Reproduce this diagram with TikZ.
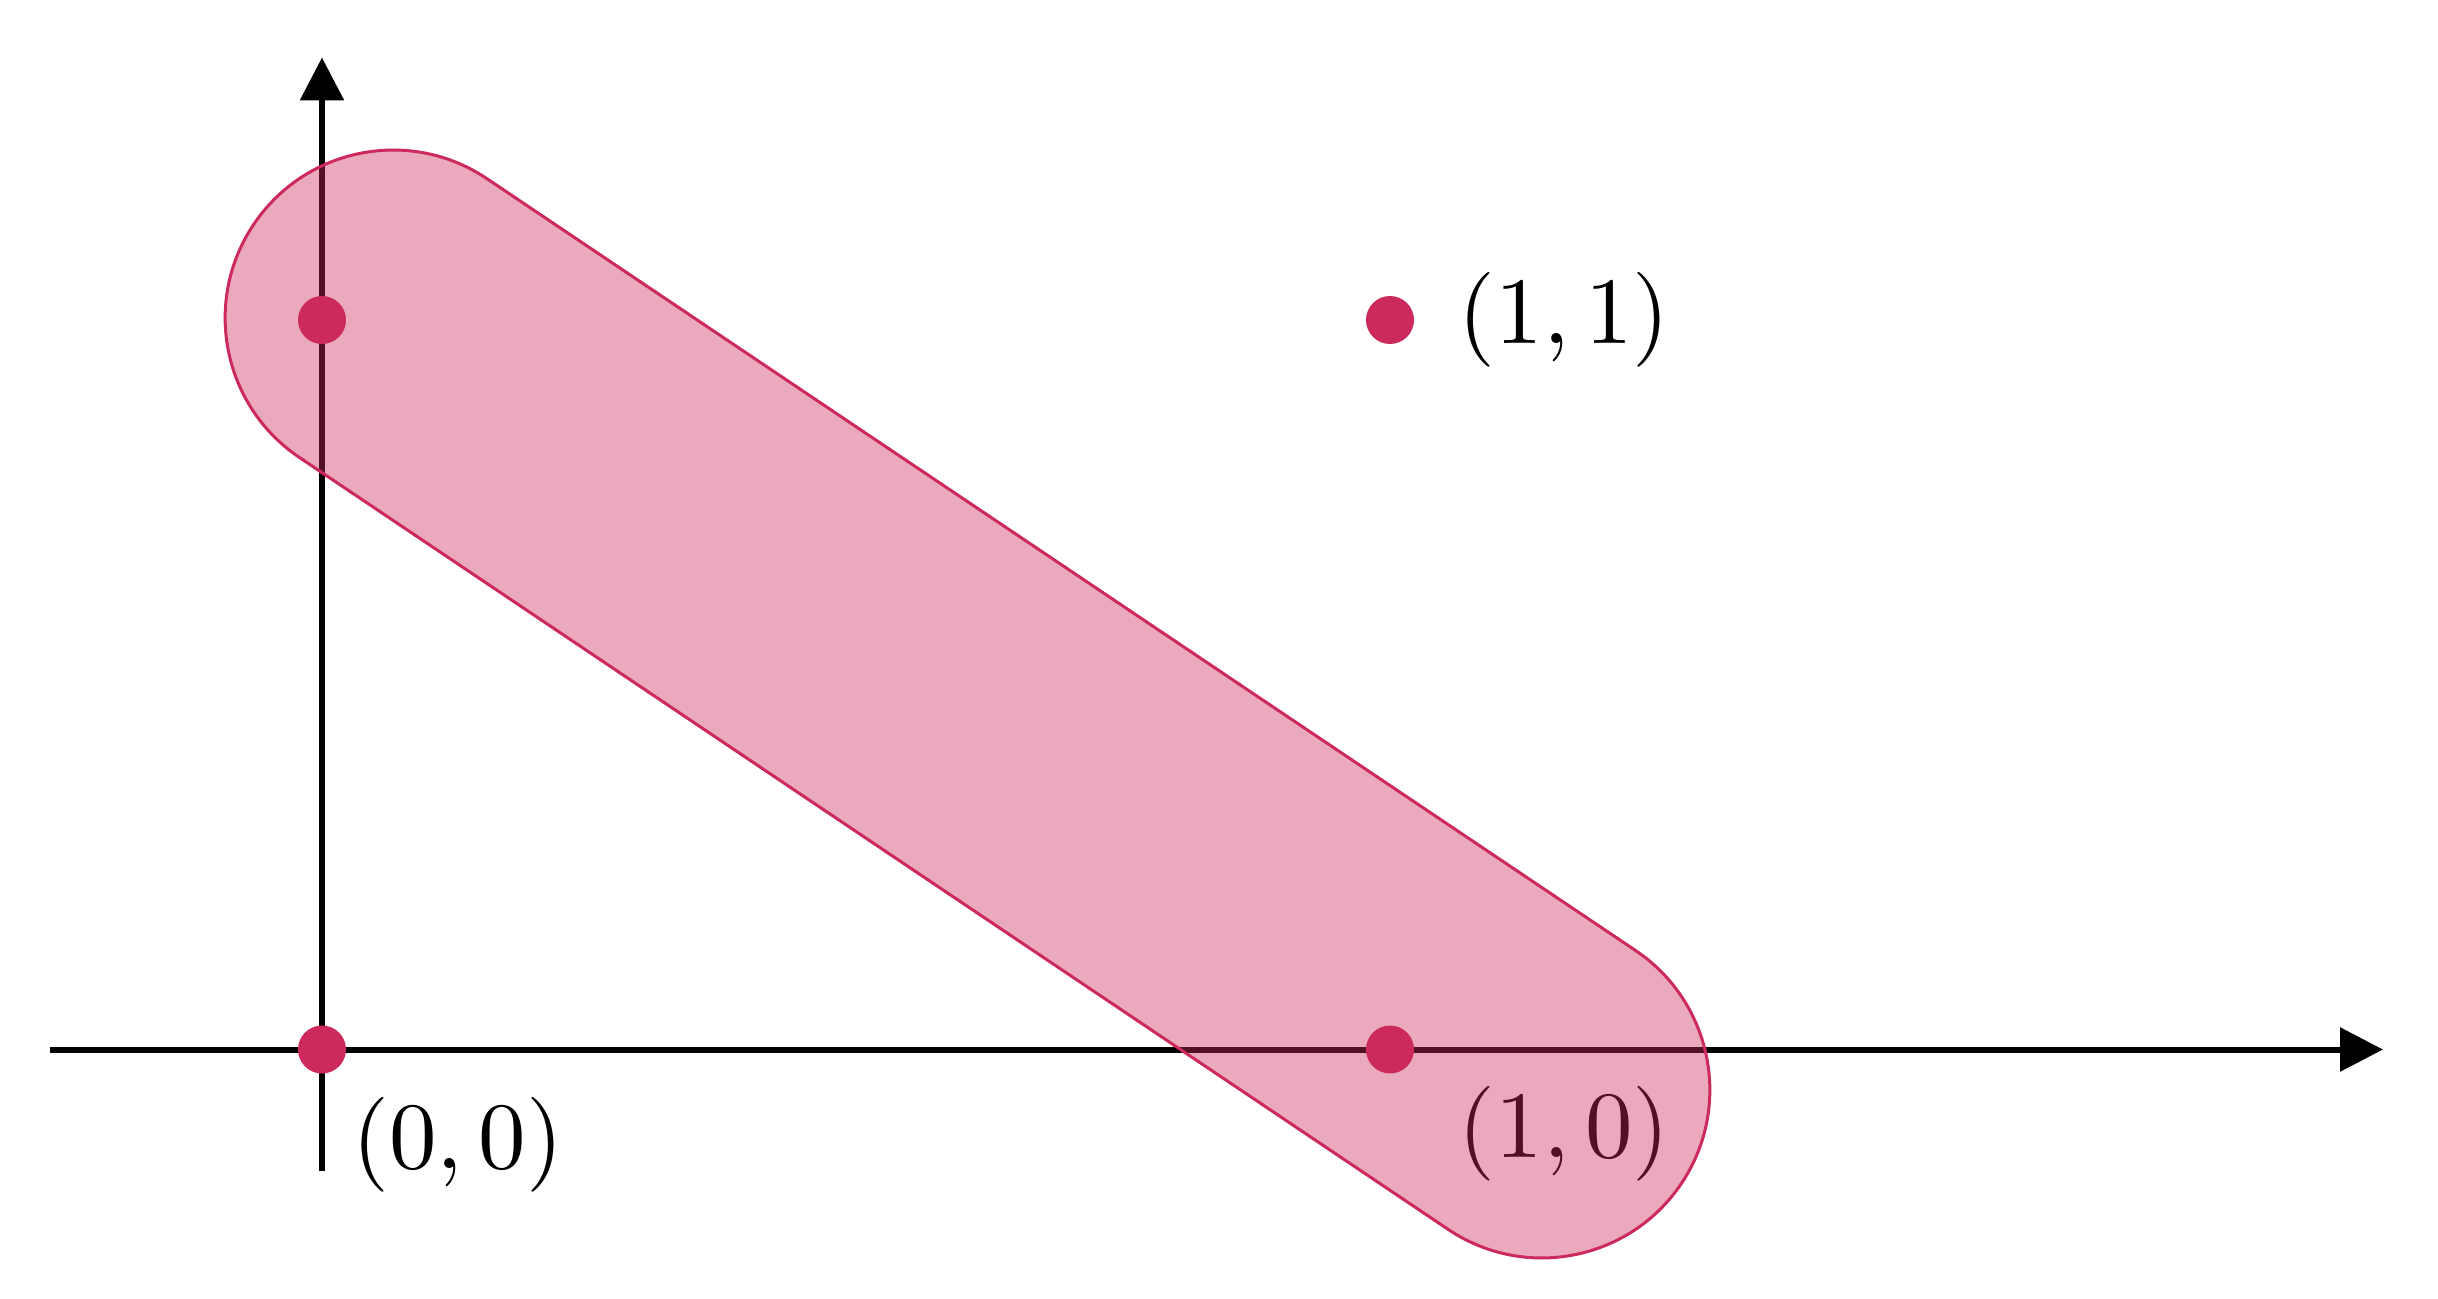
\documentclass[tikz,border=0pt]{standalone}
\usepackage{amsmath,amssymb}
\usepackage{xcolor}
\usepackage{tikz}
\usetikzlibrary{positioning,arrows.meta}

\definecolor{crimson}{HTML}{CC295C}

\begin{document}
\begin{tikzpicture}[
    axis/.style={line width=0.06cm, -{Triangle[length=4.3mm,width=4.3mm]}},
    pt/.style={circle, fill=crimson, inner sep=0pt, minimum size=0.48cm},
    pill/.style={draw=crimson, line width=0.03cm, fill=crimson, fill opacity=0.4},
    lbl/.style={inner sep=0pt, font=\normalsize, scale=2.7, transform shape}
]
    \useasboundingbox (-3.22,-2.485) rectangle (21.16,10.495);

    % axes
    \coordinate (xs) at (-2.72,0);
    \coordinate (xe) at (20.61,0);
    \coordinate (ys) at (0,-1.21);
    \coordinate (ye) at (0,9.92);
    \draw[axis] (xs) -- (xe);
    \draw[axis] (ys) -- (ye);

    % labels
    \node[lbl, anchor=west] (l00) at (0.285,-0.95) {$(0,0)$};
    \node[lbl, anchor=west] (l10) at (11.35,-0.84) {$(1,0)$};
    \node[lbl, anchor=west] (l11) at (11.35,7.295) {$(1,1)$};

    % the band round (0,1) and (1,0)
    \begin{scope}[shift={(6.455,3.455)}, rotate=-33.9]
        \filldraw[pill] (-6.92,1.68) -- (6.92,1.68)
            arc[start angle=90, end angle=-90, radius=1.68]
            -- (-6.92,-1.68)
            arc[start angle=270, end angle=90, radius=1.68] -- cycle;
    \end{scope}

    % points
    \node[pt] (p00) at (0,0) {};
    \node[pt] (p10) at (10.68,0) {};
    \node[pt] (p01) at (0,7.295) {};
    \node[pt] (p11) at (10.68,7.295) {};
\end{tikzpicture}
\end{document}
